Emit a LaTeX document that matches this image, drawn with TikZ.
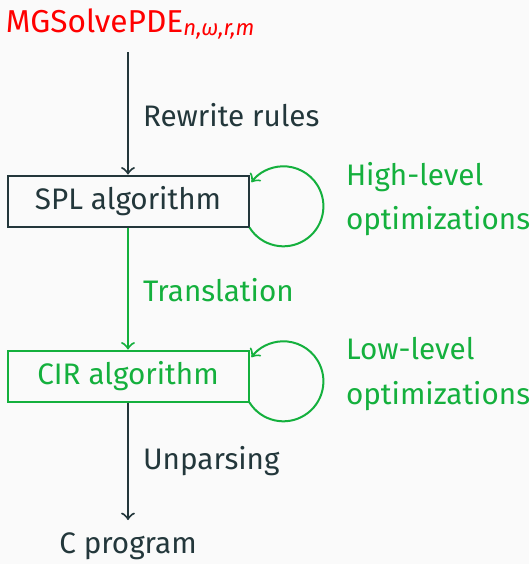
\documentclass[tikz,border=0pt]{standalone}
\usepackage{fontspec}
\setmainfont{Fira Sans}
\usetikzlibrary{arrows,positioning,calc}
\definecolor{mdark}{HTML}{23373B}
\definecolor{mgreen}{HTML}{14B03D}
\definecolor{mbg}{HTML}{FAFAFA}

\begin{document}
\begin{tikzpicture}[x=0.3pt,y=0.3pt,line width=0.6pt,
    every node/.style={font=\fontsize{8.9}{13.3}\selectfont},
    stagebox/.style={draw, minimum width=72.3pt, minimum height=15.3pt, inner sep=0pt},
    passlabel/.style={anchor=west, inner sep=0pt},
    optlabel/.style={anchor=west, align=left, inner sep=0pt, text=mgreen}]
    % background and frame
    \fill[mbg] (0,0) rectangle (529,-564);
    \useasboundingbox (0,0) rectangle (529,-564);
    % pipeline stages
    \node[text=red, font=\fontsize{9.5}{12}\selectfont] (spec) at (131,-24) {MGSolvePDE\textsubscript{\itshape n,ω,r,m}};
    \node[stagebox, draw=mdark, text=mdark] (spl) at (128,-201) {SPL algorithm};
    \node[stagebox, draw=mgreen, text=mgreen] (cir) at (128,-376) {CIR algorithm};
    \node[text=mdark] (prog) at (128,-546) {C program};
    % passes between stages
    \draw[->, mdark] (128,-52) coordinate (s0) -- (spl.north);
    \draw[->, mgreen] (spl.south) -- (cir.north);
    \draw[->, mdark] (cir.south) -- (128,-520) coordinate (p0);
    \node[passlabel, text=mdark] (rw) at (142,-115) {Rewrite rules};
    \node[passlabel, text=mgreen] (tr) at (142,-290) {Translation};
    \node[passlabel, text=mdark] (up) at (142,-461) {Unparsing};
    % optimization loops
    \draw[->, mgreen] (spl.south east) arc[start angle=212, end angle=503, radius=40];
    \draw[->, mgreen] (cir.south east) arc[start angle=212, end angle=503, radius=40];
    \node[optlabel] (hi) at (345,-199) {High-level\\optimizations};
    \node[optlabel] (lo) at (345,-374) {Low-level\\optimizations};
\end{tikzpicture}
\end{document}
